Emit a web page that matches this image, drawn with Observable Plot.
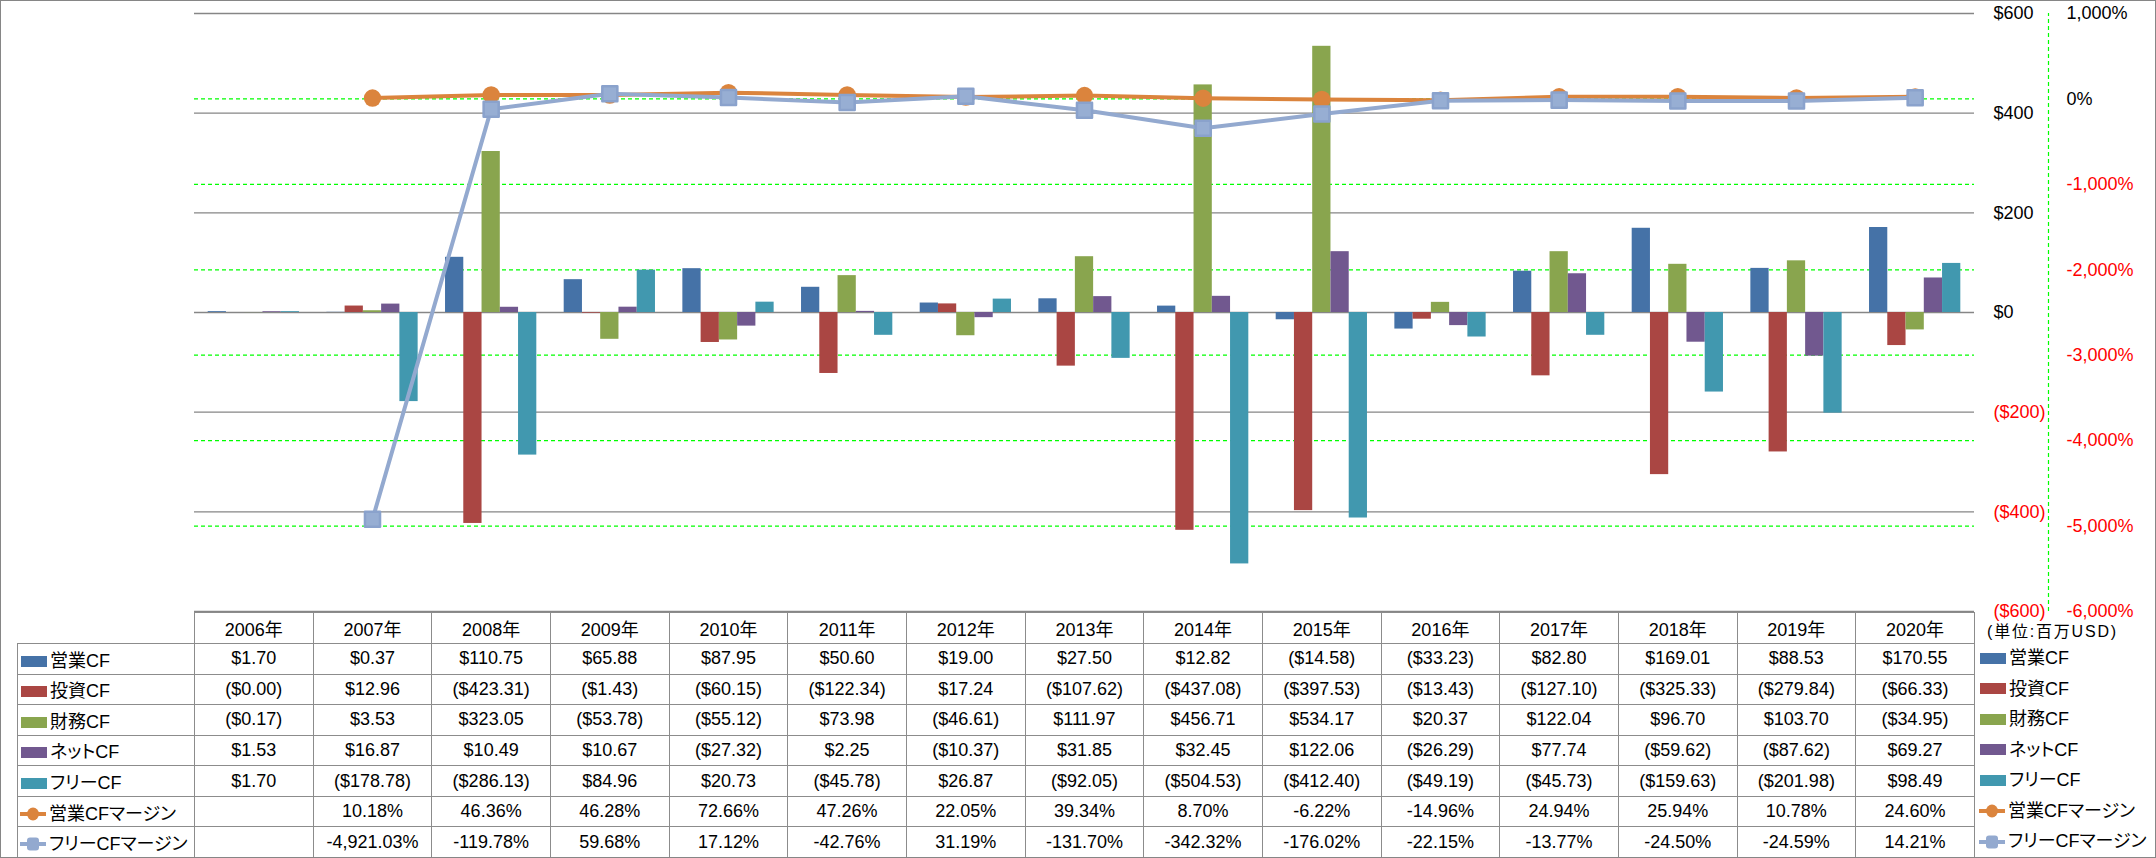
<!DOCTYPE html>
<html><head><meta charset="utf-8">
<script src="https://cdn.jsdelivr.net/npm/d3@7"></script>
<script src="https://cdn.jsdelivr.net/npm/@observablehq/plot@0.6"></script>
<style>
html,body{margin:0;padding:0;background:#fff;}
#wrap{position:relative;width:2156px;height:858px;overflow:hidden;font-family:"Liberation Sans","Noto Sans CJK JP",sans-serif;color:#000;}
#frame{position:absolute;left:0;top:0;width:2156px;height:858px;box-sizing:border-box;border:1px solid #868686;pointer-events:none;}
#chart{position:absolute;left:0;top:0;}
table.dt{position:absolute;left:17px;top:612px;border-collapse:collapse;table-layout:fixed;font-size:18px;}
table.dt td{border:1px solid #8c8c8c;padding:0;text-align:center;white-space:nowrap;overflow:visible;}
table.dt td.lab{text-align:left;font-feature-settings:"palt";}
table.dt td.corner{border:none;}
.sw{display:inline-block;width:26px;height:11px;vertical-align:middle;margin:0 3px 0 3px;position:relative;top:-1px;}
.lsw{vertical-align:middle;margin:0 2px 0 1px;position:relative;top:-1px;}
#legend{position:absolute;left:1977px;top:643px;font-size:18px;font-feature-settings:"palt";}
#legend div{height:30.57px;line-height:30.57px;white-space:nowrap;}
#unit{position:absolute;left:1987px;top:622px;font-size:16px;letter-spacing:1.8px;white-space:nowrap;line-height:20px;}
</style></head><body>
<div id="wrap"><div id="chart"></div><div id="unit">(単位:百万USD)</div><div id="legend"></div><div id="frame"></div></div>
<script>
// ---- data (millions USD / %) ----
const years = ["2006年","2007年","2008年","2009年","2010年","2011年","2012年","2013年","2014年","2015年","2016年","2017年","2018年","2019年","2020年"];
const opCF   = [1.70, 0.37, 110.75, 65.88, 87.95, 50.60, 19.00, 27.50, 12.82, -14.58, -33.23, 82.80, 169.01, 88.53, 170.55];
const invCF  = [-0, 12.96, -423.31, -1.43, -60.15, -122.34, 17.24, -107.62, -437.08, -397.53, -13.43, -127.10, -325.33, -279.84, -66.33];
const finCF  = [-0.17, 3.53, 323.05, -53.78, -55.12, 73.98, -46.61, 111.97, 456.71, 534.17, 20.37, 122.04, 96.70, 103.70, -34.95];
const netCF  = [1.53, 16.87, 10.49, 10.67, -27.32, 2.25, -10.37, 31.85, 32.45, 122.06, -26.29, 77.74, -59.62, -87.62, 69.27];
const freeCF = [1.70, -178.78, -286.13, 84.96, 20.73, -45.78, 26.87, -92.05, -504.53, -412.40, -49.19, -45.73, -159.63, -201.98, 98.49];
const opMargin   = [null, 10.18, 46.36, 46.28, 72.66, 47.26, 22.05, 39.34, 8.70, -6.22, -14.96, 24.94, 25.94, 10.78, 24.60];
const freeMargin = [null, -4921.03, -119.78, 59.68, 17.12, -42.76, 31.19, -131.70, -342.32, -176.02, -22.15, -13.77, -24.50, -24.59, 14.21];
const usdTicks = [600, 400, 200, 0, -200, -400, -600];
const pctTicks = [1000, 0, -1000, -2000, -3000, -4000, -5000, -6000];
const barNames = ["営業CF","投資CF","財務CF","ネットCF","フリーCF"];
const lineNames = ["営業CFマージン","フリーCFマージン"];
const barColors = ["#4572A7","#AA4643","#89A54E","#71588F","#4198AF"];
const lineColors = ["#DB843D","#93A9CF"];

// ---- helpers ----
const usdDomain = [-600, 600], pctDomain = [-6000, 1000];
const toUsd = p => usdDomain[0] + (p - pctDomain[0]) * (usdDomain[1]-usdDomain[0]) / (pctDomain[1]-pctDomain[0]);
const isNeg = v => v < 0 || Object.is(v, -0);
const fmtUsd = v => isNeg(v) ? "($" + Math.abs(v).toFixed(2) + ")" : "$" + v.toFixed(2);
const fmtUsdAxis = v => v < 0 ? "($" + Math.abs(v) + ")" : "$" + v;
const fmtPct = v => v == null ? "" : v.toLocaleString("en-US",{minimumFractionDigits:2,maximumFractionDigits:2}) + "%";
const fmtPctAxis = v => v.toLocaleString("en-US") + "%";

const series = [opCF, invCF, finCF, netCF, freeCF];
const rows = years.map((y,i) => ({year:y, v:series.map(s=>s[i]), opm:opMargin[i], fm:freeMargin[i]}));

const W = 2156, H = 858, ML = 194, MR = 182, MT = 13, MB = 247;
const bw = (W - ML - MR) / years.length;
const barW = bw / 6.5;
const outer = (bw - 5*barW) / 2;
const FONT = '"Liberation Sans","Noto Sans CJK JP",sans-serif';

const marks = [
  Plot.ruleY(pctTicks, {y: toUsd, stroke:"#00ff00", strokeWidth:1.2, strokeDasharray:"4,3"}),
  Plot.ruleY(usdTicks, {stroke:"#868686", strokeWidth:1.3}),
  ...series.map((s,i) => Plot.barY(rows, {x:"year", y: d=>d.v[i], fill: barColors[i],
      insetLeft: outer + i*barW, insetRight: bw - outer - (i+1)*barW})),
  Plot.line(rows.filter(d=>d.opm!=null), {x:"year", y: d=>toUsd(d.opm), stroke: lineColors[0], strokeWidth:4}),
  Plot.dot(rows.filter(d=>d.opm!=null), {x:"year", y: d=>toUsd(d.opm), symbol:"circle", r:8.7, fill: lineColors[0]}),
  Plot.line(rows.filter(d=>d.fm!=null), {x:"year", y: d=>toUsd(d.fm), stroke: lineColors[1], strokeWidth:4}),
  Plot.dot(rows.filter(d=>d.fm!=null), {x:"year", y: d=>toUsd(d.fm), symbol:"square", r:8.5, fill: "#97aed3", stroke:"#8aa2cc", strokeWidth:2.5, strokeLinejoin:"round"}),
  // primary (USD) axis labels
  Plot.text(usdTicks, {y: d=>d, text: fmtUsdAxis, frameAnchor:"right", dx:19, textAnchor:"start", fontSize:18, fill: d => d<0 ? "#ff0000" : "#000000"}),
  // secondary (%) axis line and labels
  Plot.ruleX([years[years.length-1]], {x: d=>d, y1: usdDomain[0], y2: usdDomain[1], dx: 74 + bw/2, stroke:"#00ff00", strokeWidth:1.2, strokeDasharray:"4,3"}),
  Plot.text(pctTicks, {y: toUsd, text: fmtPctAxis, frameAnchor:"right", dx:92, textAnchor:"start", fontSize:18, fill: d => d<0 ? "#ff0000" : "#000000"})
];

const chart = Plot.plot({
  width: W, height: H,
  marginLeft: ML, marginRight: MR, marginTop: MT, marginBottom: MB,
  x: {type:"band", domain: years, padding: 0, round: false, axis: null},
  y: {domain: usdDomain, axis: null},
  style: {background:"transparent", fontFamily: FONT, fontSize:"18px", overflow:"visible"},
  marks
});
document.getElementById("chart").appendChild(chart);

// ---- data table ----
function barSw(c){ return `<span class="sw" style="background:${c}"></span>`; }
function lineSw(c, i){
  const m = i===0 ? `<ellipse cx="14" cy="9" rx="6" ry="6.5" fill="${c}"/>`
                  : `<rect x="8" y="2.5" width="12" height="13" rx="3" fill="${c}"/>`;
  return `<svg class="lsw" width="28" height="18"><line x1="1" x2="27" y1="9" y2="9" stroke="${c}" stroke-width="4"/>${m}</svg>`;
}
const hdrH = 31, rowH = (857 - 643) / 7;
let html = `<colgroup><col style="width:177px">` + years.map(()=>`<col style="width:${bw}px">`).join("") + `</colgroup>`;
html += `<tr style="height:${hdrH}px"><td class="corner"></td>` + years.map(y=>`<td>${y}</td>`).join("") + `</tr>`;
series.forEach((s,i) => {
  html += `<tr style="height:${rowH}px"><td class="lab">${barSw(barColors[i])}${barNames[i]}</td>` + s.map(v=>`<td>${fmtUsd(v)}</td>`).join("") + `</tr>`;
});
[opMargin, freeMargin].forEach((s,i) => {
  html += `<tr style="height:${rowH}px"><td class="lab">${lineSw(lineColors[i], i)}${lineNames[i]}</td>` + s.map(v=>`<td>${fmtPct(v)}</td>`).join("") + `</tr>`;
});
const t = document.createElement("table");
t.className = "dt";
t.style.width = (177 + bw*years.length) + "px";
t.innerHTML = html;
document.getElementById("wrap").insertBefore(t, document.getElementById("frame"));

// ---- right legend ----
const lg = document.getElementById("legend");
lg.innerHTML = barNames.map((n,i)=>`<div>${barSw(barColors[i])}${n}</div>`).join("")
  + lineNames.map((n,i)=>`<div>${lineSw(lineColors[i], i)}${n}</div>`).join("");
</script>
</body></html>
